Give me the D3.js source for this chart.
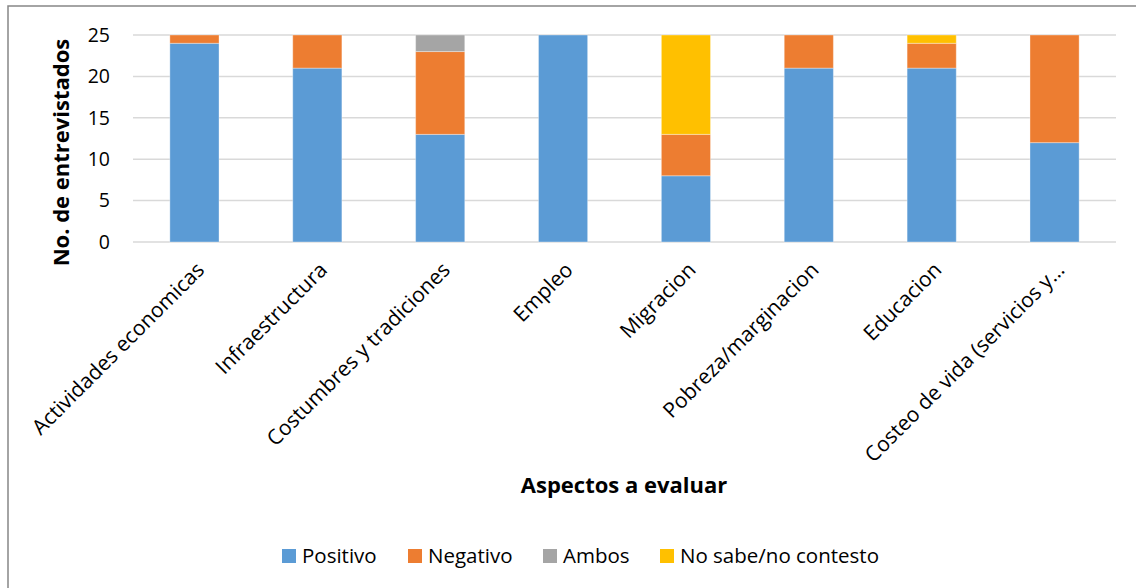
<!DOCTYPE html>
<html>
<head>
<meta charset="utf-8">
<script src="https://cdn.jsdelivr.net/npm/d3@7"></script>
<style>
  html, body { margin: 0; padding: 0; background: #fff; }
  svg { display: block; font-family: "Open Sans", "Noto Sans", sans-serif; }
</style>
</head>
<body>
<svg id="chart" width="1136" height="588"></svg>
<script>
// Aspects evaluated (x categories)
const categories = [
  "Actividades economicas",
  "Infraestructura",
  "Costumbres y tradiciones",
  "Empleo",
  "Migracion",
  "Pobreza/marginacion",
  "Educacion",
  "Costeo de vida (servicios y…"
];

// Number of interviewees per answer
const positivo   = [24, 21, 13, 25,  8, 21, 21, 12];
const negativo   = [ 1,  4, 10,  0,  5,  4,  3, 13];
const ambos      = [ 0,  0,  2,  0,  0,  0,  0,  0];
const noSabe     = [ 0,  0,  0,  0, 12,  0,  1,  0];

const seriesNames = ["Positivo", "Negativo", "Ambos", "No sabe/no contesto"];
const seriesColors = ["#5b9bd5", "#ed7d31", "#a5a5a5", "#ffc000"];
const yTicks = [0, 5, 10, 15, 20, 25];

const rows = categories.map((c, i) => ({
  cat: c,
  "Positivo": positivo[i],
  "Negativo": negativo[i],
  "Ambos": ambos[i],
  "No sabe/no contesto": noSabe[i]
}));

const svg = d3.select("#chart");

// outer chart frame
svg.append("rect")
  .attr("x", 8).attr("y", 6)
  .attr("width", 1140).attr("height", 600)
  .attr("fill", "#fff")
  .attr("stroke", "#868686").attr("stroke-width", 1.5);

const plot = { left: 133, right: 1116, top: 35, bottom: 242 };

const x = d3.scaleBand()
  .domain(categories)
  .range([plot.left, plot.right])
  .paddingInner(0.6).paddingOuter(0.3);

const y = d3.scaleLinear().domain([0, 25]).range([plot.bottom, plot.top]);

// horizontal gridlines
svg.append("g")
  .selectAll("line")
  .data(yTicks)
  .join("line")
  .attr("x1", plot.left).attr("x2", plot.right)
  .attr("y1", d => y(d)).attr("y2", d => y(d))
  .attr("stroke", "#d9d9d9").attr("stroke-width", 1.5);

// stacked bars
const stack = d3.stack().keys(seriesNames)(rows);
svg.append("g")
  .selectAll("g")
  .data(stack)
  .join("g")
  .attr("fill", (d, i) => seriesColors[i])
  .selectAll("rect")
  .data(d => d.filter(s => s[1] - s[0] > 0))
  .join("rect")
  .attr("x", d => x(d.data.cat))
  .attr("width", x.bandwidth())
  .attr("y", d => y(d[1]))
  .attr("height", d => y(d[0]) - y(d[1]))
  .attr("stroke", "#fff").attr("stroke-opacity", 0.35).attr("stroke-width", 1);

// y axis labels
const yAxis = d3.axisLeft(y).tickValues(yTicks).tickSize(0).tickPadding(23);
const gy = svg.append("g")
  .attr("transform", `translate(${plot.left},0)`)
  .call(yAxis);
gy.select(".domain").remove();
gy.selectAll("text")
  .attr("font-size", 19.5)
  .attr("font-family", "Open Sans, sans-serif")
  .attr("fill", "#000");

// x axis labels, rotated
const xAxis = d3.axisBottom(x).tickSize(0).tickPadding(0);
const gx = svg.append("g")
  .attr("transform", `translate(0,${plot.bottom})`)
  .call(xAxis);
gx.select(".domain").remove();
gx.selectAll(".tick text")
  .attr("font-size", 21)
  .attr("font-family", "Open Sans, sans-serif")
  .attr("fill", "#000")
  .attr("text-anchor", "end")
  .attr("dy", "0.35em")
  .attr("transform", "translate(6,24) rotate(-45)");

// axis titles
svg.append("text")
  .attr("transform", `translate(69,${(plot.top + 270) / 2}) rotate(-90)`)
  .attr("text-anchor", "middle")
  .attr("font-size", 22)
  .attr("font-weight", "bold")
  .text("No. de entrevistados");

svg.append("text")
  .attr("x", 624).attr("y", 493)
  .attr("text-anchor", "middle")
  .attr("font-size", 22)
  .attr("font-weight", "bold")
  .text("Aspectos a evaluar");

// legend
const legendX = [282, 408, 543, 660];
const legend = svg.append("g")
  .selectAll("g")
  .data(seriesNames)
  .join("g")
  .attr("transform", (d, i) => `translate(${legendX[i]},549)`);
legend.append("rect")
  .attr("width", 14).attr("height", 14)
  .attr("fill", (d, i) => seriesColors[i]);
legend.append("text")
  .attr("x", 20).attr("y", 14)
  .attr("font-size", 20.5)
  .text(d => d);
</script>
</body>
</html>
